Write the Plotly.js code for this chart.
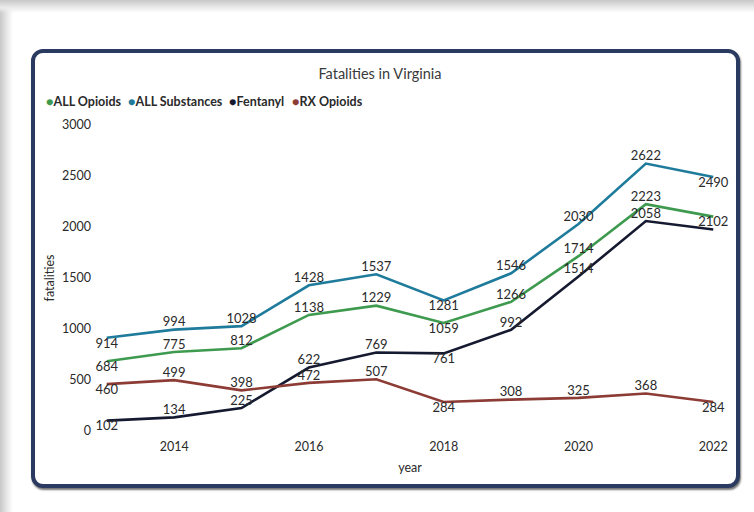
<!DOCTYPE html>
<html>
<head>
<meta charset="utf-8">
<script src="https://cdn.plot.ly/plotly-3.0.1.min.js"></script>
<style>
  html, body { margin:0; padding:0; width:754px; height:512px; overflow:hidden; }
  body {
    background:
      linear-gradient(to bottom, #c8c8c8 0px, #ececec 8px, rgba(255,255,255,0) 13px),
      linear-gradient(to right, #c8c8c8 0px, #ececec 8px, #ffffff 13px);
    position:relative;
  }
  #frame {
    position:absolute; left:31px; top:49px; width:701px; height:431px;
    border:4px solid #2b3a60; border-radius:12px;
    box-shadow: 1px 2px 2px rgba(0,0,0,0.55);
    background:#ffffff;
  }
  #chart { position:absolute; left:0; top:0; width:754px; height:512px; }
</style>
</head>
<body>
<div id="frame"></div>
<div id="chart"></div>
<script>
const years = [2013, 2014, 2015, 2016, 2017, 2018, 2019, 2020, 2021, 2022];
const allOpioids    = [684, 775, 812, 1138, 1229, 1059, 1266, 1714, 2223, 2102];
const allSubstances = [914, 994, 1028, 1428, 1537, 1281, 1546, 2030, 2622, 2490];
const fentanyl      = [102, 134, 225, 622, 769, 761, 992, 1514, 2058, 1975];
const rxOpioids     = [460, 499, 398, 472, 507, 284, 308, 325, 368, 284];
const seriesNames = ['ALL Opioids', 'ALL Substances', 'Fentanyl', 'RX Opioids'];
const xTickVals = [2014, 2016, 2018, 2020, 2022];
const yTickVals = [0, 500, 1000, 1500, 2000, 2500, 3000];
// labels not shown in the reference (index into years)
const hiddenLabels = { 'Fentanyl': [9] };

const colors = {
  'ALL Opioids': '#3d9a4e',
  'ALL Substances': '#1e7b9b',
  'Fentanyl': '#161a30',
  'RX Opioids': '#8c3b35'
};
const positions = ['bottom center','top center','top center','top center','top center',
                   'bottom center','top center','top center','top center','bottom center'];
const seriesValues = [allOpioids, allSubstances, fentanyl, rxOpioids];

const FONT = 'Lato, "Open Sans", "DejaVu Sans", sans-serif';

const traces = seriesNames.map((name, i) => {
  const vals = seriesValues[i];
  const hide = hiddenLabels[name] || [];
  return {
    type: 'scatter',
    mode: 'lines+text',
    name: name,
    x: years,
    y: vals,
    text: vals.map((v, k) => hide.includes(k) ? '' : String(v)),
    textposition: positions,
    textfont: { family: FONT, size: 13, color: '#2a2a2a' },
    cliponaxis: false,
    line: { color: colors[name], width: 2.6 },
    showlegend: false,
    hoverinfo: 'x+y+name'
  };
});

// legend-like row of coloured dots + names
const legendX = [44, 126, 227, 290];
const L = 100, R = 34, T = 125, B = 81, W = 754, H = 512;
const pw = W - L - R, ph = H - T - B;
const annotations = seriesNames.map((name, i) => ({
  xref: 'paper', yref: 'paper',
  x: (legendX[i] - L) / pw, y: (H - 101 - B) / ph,
  xanchor: 'left', yanchor: 'middle',
  showarrow: false,
  text: '<span style="color:' + colors[name] + '">●</span><b>' + name + '</b>',
  font: { family: FONT, size: 12.5, color: '#2a2a2a' }
}));

const layout = {
  width: W, height: H,
  margin: { l: L, r: R, t: T, b: B, pad: 0 },
  paper_bgcolor: 'rgba(0,0,0,0)',
  plot_bgcolor: 'rgba(0,0,0,0)',
  showlegend: false,
  title: {
    text: 'Fatalities in Virginia',
    font: { family: FONT, size: 14.5, color: '#3a3a3a' },
    xref: 'container', yref: 'container',
    x: 380 / W, y: 1 - 74 / H, xanchor: 'center', yanchor: 'middle'
  },
  xaxis: {
    range: [2012.9, 2022.1],
    tickvals: xTickVals,
    ticktext: xTickVals.map(String),
    showgrid: false, zeroline: false, showline: false,
    ticks: '',
    ticklabelstandoff: 6,
    tickfont: { family: FONT, size: 12.5, color: '#2a2a2a' },
    title: { text: 'year', font: { family: FONT, size: 12.5, color: '#2a2a2a' }, standoff: 10 }
  },
  yaxis: {
    range: [0, 3000],
    tickvals: yTickVals,
    showgrid: false, zeroline: false, showline: false,
    ticks: '',
    ticklabelstandoff: 8,
    tickfont: { family: FONT, size: 12.5, color: '#2a2a2a' },
    title: { text: 'fatalities', font: { family: FONT, size: 12.5, color: '#2a2a2a' }, standoff: 4 }
  },
  annotations: annotations
};

Plotly.newPlot('chart', traces, layout, { displayModeBar: false, staticPlot: true });
</script>
</body>
</html>
